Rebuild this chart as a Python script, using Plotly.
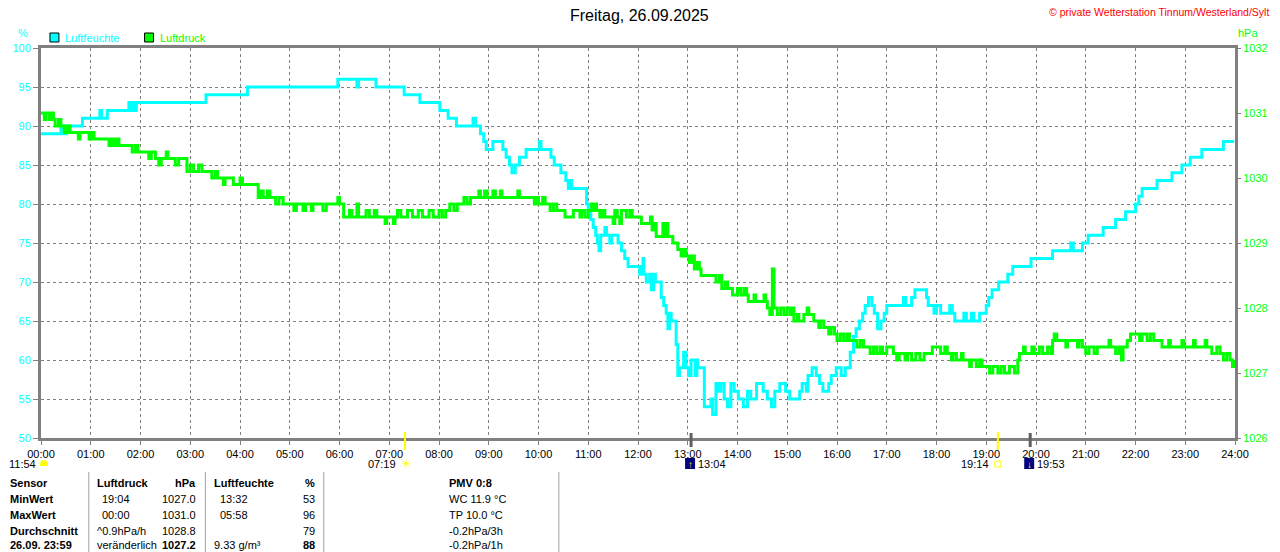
import plotly.graph_objects as go

# Luftfeuchte in %, (Uhrzeit, Wert) an jedem Wechsel
humidity = [
    ("00:00", 89), ("00:24", 90), ("00:27", 89), ("00:30", 90), ("00:50", 91),
    ("01:11", 92), ("01:13", 91), ("01:20", 92), ("01:46", 93), ("01:48", 92),
    ("01:50", 93), ("01:53", 92), ("01:55", 93), ("03:19", 94), ("04:09", 95),
    ("05:58", 96), ("06:21", 95), ("06:23", 96), ("06:44", 95), ("07:18", 94),
    ("07:37", 93), ("08:01", 92), ("08:11", 91), ("08:21", 90), ("08:41", 91),
    ("08:44", 90), ("08:50", 89), ("08:54", 88), ("08:57", 87), ("09:05", 88),
    ("09:17", 87), ("09:21", 86), ("09:25", 85), ("09:28", 84), ("09:32", 85),
    ("09:37", 86), ("09:45", 87), ("10:01", 88), ("10:03", 87), ("10:15", 86),
    ("10:19", 85), ("10:27", 84), ("10:33", 83), ("10:36", 82), ("10:38", 83),
    ("10:40", 82), ("10:58", 80), ("11:00", 79), ("11:03", 78), ("11:06", 77),
    ("11:09", 76), ("11:11", 75), ("11:13", 74), ("11:15", 76), ("11:20", 77),
    ("11:22", 76), ("11:26", 75), ("11:28", 76), ("11:36", 75), ("11:40", 74),
    ("11:44", 73), ("11:48", 72), ("12:02", 71), ("12:04", 72), ("12:06", 73),
    ("12:07", 71), ("12:10", 70), ("12:14", 71), ("12:16", 69), ("12:19", 71),
    ("12:21", 70), ("12:28", 68), ("12:31", 67), ("12:34", 66), ("12:36", 64),
    ("12:38", 66), ("12:40", 65), ("12:46", 62), ("12:48", 58), ("12:50", 59),
    ("12:55", 61), ("12:58", 59), ("13:01", 58), ("13:04", 60), ("13:09", 58),
    ("13:11", 60), ("13:12", 59), ("13:20", 54), ("13:28", 55), ("13:30", 53),
    ("13:34", 57), ("13:37", 56), ("13:40", 57), ("13:44", 55), ("13:48", 54),
    ("13:52", 57), ("13:56", 56), ("14:01", 55), ("14:07", 54), ("14:12", 56),
    ("14:16", 55), ("14:23", 57), ("14:31", 56), ("14:36", 55), ("14:41", 54),
    ("14:45", 56), ("14:51", 57), ("14:58", 56), ("15:03", 55), ("15:15", 56),
    ("15:18", 57), ("15:23", 56), ("15:25", 58), ("15:30", 59), ("15:35", 58),
    ("15:39", 57), ("15:43", 56), ("15:50", 57), ("15:53", 58), ("15:59", 59),
    ("16:05", 58), ("16:10", 59), ("16:16", 61), ("16:20", 63), ("16:23", 64),
    ("16:27", 65), ("16:31", 66), ("16:34", 67), ("16:38", 68), ("16:42", 67),
    ("16:45", 66), ("16:49", 64), ("16:53", 65), ("16:57", 66), ("17:00", 67),
    ("17:20", 68), ("17:23", 67), ("17:30", 68), ("17:34", 69), ("17:48", 68),
    ("17:50", 67), ("17:57", 66), ("18:00", 67), ("18:05", 66), ("18:16", 67),
    ("18:19", 66), ("18:22", 65), ("18:33", 66), ("18:36", 65), ("18:42", 66),
    ("18:45", 65), ("18:52", 66), ("19:00", 67), ("19:03", 68), ("19:07", 69),
    ("19:15", 70), ("19:26", 71), ("19:32", 72), ("19:54", 73), ("20:20", 74),
    ("20:42", 75), ("20:45", 74), ("20:56", 75), ("21:03", 76), ("21:21", 77),
    ("21:36", 78), ("21:48", 79), ("22:00", 80), ("22:04", 81), ("22:08", 82),
    ("22:26", 83), ("22:44", 84), ("22:56", 85), ("23:06", 86), ("23:20", 87),
    ("23:46", 88), ("23:59", 88),
]

# Luftdruck in hPa, (Uhrzeit, Wert) an jedem Wechsel
pressure = [
    ("00:00", 1031.0), ("00:04", 1030.9), ("00:06", 1031.0), ("00:10", 1030.9),
    ("00:12", 1031.0), ("00:15", 1030.9), ("00:17", 1030.8), ("00:21", 1030.9),
    ("00:24", 1030.8), ("00:28", 1030.7), ("00:32", 1030.8), ("00:35", 1030.7),
    ("00:45", 1030.6), ("00:47", 1030.7), ("00:58", 1030.6), ("01:01", 1030.7),
    ("01:04", 1030.6), ("01:22", 1030.5), ("01:25", 1030.6), ("01:28", 1030.5),
    ("01:31", 1030.6), ("01:34", 1030.5), ("01:50", 1030.4), ("01:54", 1030.5),
    ("01:57", 1030.4), ("02:10", 1030.3), ("02:13", 1030.4), ("02:18", 1030.3),
    ("02:22", 1030.2), ("02:25", 1030.3), ("02:31", 1030.4), ("02:33", 1030.3),
    ("02:42", 1030.2), ("02:46", 1030.3), ("02:56", 1030.1), ("03:00", 1030.2),
    ("03:04", 1030.1), ("03:10", 1030.2), ("03:14", 1030.1), ("03:26", 1030.0),
    ("03:30", 1030.1), ("03:33", 1030.0), ("03:40", 1029.9), ("03:42", 1030.0),
    ("03:52", 1029.9), ("04:00", 1030.0), ("04:03", 1029.9), ("04:22", 1029.7),
    ("04:25", 1029.8), ("04:28", 1029.7), ("04:33", 1029.8), ("04:36", 1029.7),
    ("04:43", 1029.6), ("04:47", 1029.7), ("04:52", 1029.6), ("05:05", 1029.5),
    ("05:08", 1029.6), ("05:16", 1029.5), ("05:19", 1029.6), ("05:26", 1029.5),
    ("05:28", 1029.6), ("05:40", 1029.5), ("05:44", 1029.6), ("05:58", 1029.7),
    ("06:00", 1029.6), ("06:05", 1029.4), ("06:12", 1029.5), ("06:15", 1029.4),
    ("06:21", 1029.6), ("06:23", 1029.4), ("06:32", 1029.5), ("06:36", 1029.4),
    ("06:42", 1029.5), ("06:45", 1029.4), ("06:55", 1029.3), ("06:57", 1029.4),
    ("07:05", 1029.3), ("07:07", 1029.4), ("07:10", 1029.5), ("07:14", 1029.4),
    ("07:22", 1029.5), ("07:28", 1029.4), ("07:35", 1029.5), ("07:40", 1029.4),
    ("07:48", 1029.5), ("07:53", 1029.4), ("08:00", 1029.5), ("08:04", 1029.4),
    ("08:08", 1029.5), ("08:13", 1029.6), ("08:18", 1029.5), ("08:22", 1029.6),
    ("08:30", 1029.7), ("08:34", 1029.6), ("08:38", 1029.7), ("08:48", 1029.8),
    ("08:50", 1029.7), ("08:55", 1029.8), ("08:58", 1029.7), ("09:05", 1029.8),
    ("09:08", 1029.7), ("09:14", 1029.8), ("09:16", 1029.7), ("09:35", 1029.8),
    ("09:37", 1029.7), ("09:55", 1029.6), ("09:57", 1029.7), ("10:00", 1029.6),
    ("10:05", 1029.7), ("10:08", 1029.6), ("10:14", 1029.5), ("10:18", 1029.6),
    ("10:22", 1029.5), ("10:32", 1029.4), ("10:42", 1029.5), ("10:50", 1029.4),
    ("10:52", 1029.5), ("10:56", 1029.4), ("11:00", 1029.5), ("11:04", 1029.6),
    ("11:06", 1029.5), ("11:08", 1029.6), ("11:10", 1029.5), ("11:14", 1029.4),
    ("11:17", 1029.5), ("11:20", 1029.4), ("11:30", 1029.3), ("11:32", 1029.5),
    ("11:35", 1029.4), ("11:38", 1029.3), ("11:40", 1029.5), ("11:46", 1029.4),
    ("11:50", 1029.5), ("11:53", 1029.4), ("12:04", 1029.3), ("12:15", 1029.4),
    ("12:17", 1029.2), ("12:20", 1029.3), ("12:22", 1029.1), ("12:30", 1029.3),
    ("12:32", 1029.1), ("12:34", 1029.3), ("12:36", 1029.1), ("12:42", 1029.0),
    ("12:48", 1028.9), ("12:52", 1028.8), ("12:55", 1028.9), ("12:58", 1028.8),
    ("13:02", 1028.7), ("13:05", 1028.8), ("13:08", 1028.6), ("13:11", 1028.7),
    ("13:14", 1028.6), ("13:16", 1028.5), ("13:34", 1028.4), ("13:38", 1028.5),
    ("13:41", 1028.3), ("13:45", 1028.4), ("13:48", 1028.3), ("13:54", 1028.2),
    ("14:00", 1028.3), ("14:04", 1028.2), ("14:08", 1028.3), ("14:11", 1028.2),
    ("14:13", 1028.1), ("14:20", 1028.2), ("14:22", 1028.1), ("14:32", 1028.2),
    ("14:34", 1028.1), ("14:36", 1028.0), ("14:39", 1027.9), ("14:42", 1028.6),
    ("14:44", 1028.0), ("14:48", 1027.9), ("14:52", 1028.0), ("14:56", 1027.9),
    ("15:00", 1028.0), ("15:04", 1027.9), ("15:06", 1028.0), ("15:08", 1027.8),
    ("15:12", 1027.9), ("15:14", 1027.8), ("15:20", 1027.9), ("15:24", 1028.0),
    ("15:26", 1027.9), ("15:32", 1027.8), ("15:38", 1027.7), ("15:40", 1027.8),
    ("15:44", 1027.7), ("15:50", 1027.6), ("15:53", 1027.7), ("15:57", 1027.6),
    ("16:00", 1027.5), ("16:04", 1027.6), ("16:08", 1027.5), ("16:12", 1027.6),
    ("16:15", 1027.5), ("16:24", 1027.4), ("16:28", 1027.5), ("16:32", 1027.4),
    ("16:40", 1027.3), ("16:44", 1027.4), ("16:48", 1027.3), ("16:52", 1027.4),
    ("16:55", 1027.3), ("17:00", 1027.4), ("17:08", 1027.3), ("17:12", 1027.2),
    ("17:15", 1027.3), ("17:22", 1027.2), ("17:25", 1027.3), ("17:30", 1027.2),
    ("17:35", 1027.3), ("17:40", 1027.2), ("17:45", 1027.3), ("17:55", 1027.4),
    ("18:05", 1027.3), ("18:10", 1027.4), ("18:13", 1027.3), ("18:18", 1027.2),
    ("18:20", 1027.3), ("18:24", 1027.2), ("18:30", 1027.3), ("18:32", 1027.2),
    ("18:40", 1027.1), ("18:42", 1027.2), ("18:48", 1027.1), ("18:52", 1027.2),
    ("18:55", 1027.1), ("19:04", 1027.0), ("19:08", 1027.1), ("19:14", 1027.0),
    ("19:18", 1027.1), ("19:22", 1027.0), ("19:28", 1027.1), ("19:34", 1027.0),
    ("19:38", 1027.2), ("19:40", 1027.3), ("19:45", 1027.4), ("19:47", 1027.3),
    ("19:55", 1027.4), ("19:58", 1027.3), ("20:04", 1027.4), ("20:08", 1027.3),
    ("20:14", 1027.4), ("20:18", 1027.3), ("20:20", 1027.5), ("20:22", 1027.6),
    ("20:25", 1027.5), ("20:36", 1027.4), ("20:38", 1027.5), ("20:50", 1027.4),
    ("20:52", 1027.5), ("20:56", 1027.4), ("21:00", 1027.3), ("21:04", 1027.4),
    ("21:10", 1027.3), ("21:14", 1027.4), ("21:28", 1027.5), ("21:30", 1027.4),
    ("21:36", 1027.3), ("21:40", 1027.4), ("21:43", 1027.2), ("21:45", 1027.4),
    ("21:50", 1027.5), ("21:54", 1027.6), ("22:05", 1027.5), ("22:08", 1027.6),
    ("22:14", 1027.5), ("22:18", 1027.6), ("22:22", 1027.5), ("22:32", 1027.4),
    ("22:40", 1027.5), ("22:42", 1027.4), ("22:56", 1027.5), ("22:58", 1027.4),
    ("23:10", 1027.5), ("23:12", 1027.4), ("23:24", 1027.5), ("23:26", 1027.4),
    ("23:32", 1027.3), ("23:38", 1027.4), ("23:42", 1027.3), ("23:46", 1027.2),
    ("23:50", 1027.3), ("23:54", 1027.2), ("23:57", 1027.1), ("23:59", 1027.2),
]

hour_labels = ["%02d:00" % h for h in range(25)]

sunrise, sunset = "07:19", "19:14"
moonrise, moonset = "13:04", "19:53"
day_length = "11:54"

# Tabelle unter dem Diagramm
col_sensor = ["Sensor", "MinWert", "MaxWert", "Durchschnitt", "26.09. 23:59"]
col_druck = ["Luftdruck", "19:04", "00:00", "^0.9hPa/h", "veränderlich"]
col_druck_val = ["hPa", "1027.0", "1031.0", "1028.8", "1027.2"]
col_feuchte = ["Luftfeuchte", "13:32", "05:58", "", "9.33 g/m³"]
col_feuchte_val = ["%", "53", "96", "79", "88"]
col_extra = ["PMV 0:8", "WC 11.9 °C", "TP 10.0 °C", "-0.2hPa/3h", "-0.2hPa/1h"]

CYAN = "#00FFFF"
GREEN = "#00FF00"
GRAY = "#808080"
FONT = "Liberation Sans"

W, H = 1280, 552
L, R, T, B = 41, 1240, 48, 438
HPP = 24.0 / (R - L)   # Stunden pro Pixel


def hours(s):
    h, m = s.split(":")
    return int(h) + int(m) / 60.0


def px(x):
    return (x - L) / (R - L)


def py(y):
    return (B - y) / (B - T)


fig = go.Figure()

fig.add_trace(go.Scatter(
    x=[hours(t) for t, _ in pressure], y=[v for _, v in pressure],
    yaxis="y2", mode="lines", name="Luftdruck",
    line=dict(color=GREEN, width=3, shape="hv"), hoverinfo="skip"))

fig.add_trace(go.Scatter(
    x=[hours(t) for t, _ in humidity], y=[v for _, v in humidity],
    mode="lines", name="Luftfeuchte",
    line=dict(color=CYAN, width=3, shape="hv"), hoverinfo="skip"))


def text(x, y, s, color="black", size=11, anchor="left", bold=False, xref="paper"):
    fig.add_annotation(
        xref=xref, yref="paper", x=x if xref != "paper" else px(x), y=py(y),
        text="<b>%s</b>" % s if bold else s, showarrow=False,
        xanchor=anchor, yanchor="middle",
        font=dict(family=FONT, size=size, color=color))


# Kopf
text(642, 15, "Freitag, 26.09.2025", size=16, anchor="center")
text(1276, 12, "© private Wetterstation Tinnum/Westerland/Sylt", color="#FF0000", size=10.5, anchor="right")
text(30, 33, "%", color=CYAN, anchor="right")
text(1241, 33, "hPa", color=GREEN)

# Legende
fig.add_shape(type="rect", xref="paper", yref="paper", x0=px(50), x1=px(59), y0=py(42), y1=py(33),
              fillcolor=CYAN, line=dict(color="black", width=1))
text(63, 38, "Luftfeuchte", color=CYAN)
fig.add_shape(type="rect", xref="paper", yref="paper", x0=px(145), x1=px(154), y0=py(42), y1=py(33),
              fillcolor=GREEN, line=dict(color="black", width=1))
text(158, 38, "Luftdruck", color=GREEN)

# Tageslaenge
text(38, 464, day_length, anchor="right")
fig.add_shape(type="circle", xref="paper", yref="paper", x0=px(40), x1=px(48), y0=py(469), y1=py(460),
              fillcolor="#FFFF00", line=dict(width=0))
fig.add_shape(type="rect", xref="paper", yref="paper", x0=px(39), x1=px(49), y0=py(471), y1=py(466),
              fillcolor="white", line=dict(width=0))

# Sonnenaufgang / -untergang
for t in (sunrise, sunset):
    h = hours(t)
    fig.add_shape(type="line", xref="x", yref="paper", x0=h, x1=h, y0=py(450), y1=py(432),
                  line=dict(color="#FFFF00", width=2))
    text(h - 7 * HPP, 464, t, anchor="right", xref="x")
h = hours(sunrise)
text(h + 1 * HPP, 464, "☀", color="#FFFF00", size=12, anchor="center", xref="x")
h = hours(sunset)
fig.add_shape(type="rect", xref="x", yref="paper", x0=h - 3 * HPP, x1=h + 3 * HPP, y0=py(467), y1=py(461),
              line=dict(color="#FFFF00", width=1))

# Mondaufgang / -untergang
for t, arrow in ((moonrise, "↑"), (moonset, "↓")):
    h = hours(t)
    fig.add_shape(type="line", xref="x", yref="paper", x0=h, x1=h, y0=py(447), y1=py(433),
                  line=dict(color="#606060", width=3))
    fig.add_shape(type="rect", xref="x", yref="paper", x0=h - 6 * HPP, x1=h + 4 * HPP, y0=py(469), y1=py(458),
                  fillcolor="#000080", line=dict(width=0))
    text(h - 1 * HPP, 464, arrow, color="#FFFF00", size=10, anchor="center", xref="x", bold=True)
    text(h + 5 * HPP, 464, t, xref="x")

# Tabelle
rows_y = [483, 499, 515, 531, 545]
for sx in (89, 206, 325, 561):
    fig.add_shape(type="line", xref="paper", yref="paper", x0=px(sx), x1=px(sx), y0=py(552), y1=py(472),
                  line=dict(color="#A0A0A0", width=1))
for i, y in enumerate(rows_y):
    head = i == 0
    text(8, y, col_sensor[i], bold=True)
    text(95 if i in (0, 3, 4) else 100, y, col_druck[i], bold=head)
    text(199, y, col_druck_val[i], anchor="right", bold=head or i == 4)
    if col_feuchte[i]:
        text(213 if i in (0, 4) else 219, y, col_feuchte[i], bold=head)
    text(318, y, col_feuchte_val[i], anchor="right", bold=head or i == 4)
    text(449, y, col_extra[i], bold=head)

grid = dict(showgrid=True, gridcolor=GRAY, griddash="3px,3px", gridwidth=1, zeroline=False)

fig.update_layout(
    width=W, height=H,
    margin=dict(l=L, r=W - R, t=T, b=H - B, pad=0),
    paper_bgcolor="white", plot_bgcolor="white",
    showlegend=False,
    xaxis=dict(range=[0, 24], tickvals=list(range(25)), ticktext=hour_labels,
               showline=True, linecolor=GRAY, linewidth=3, mirror=True,
               ticks="outside", ticklen=4, tickcolor=GRAY,
               tickfont=dict(family=FONT, size=11, color="black"), **grid),
    yaxis=dict(range=[50, 100], tick0=50, dtick=5,
               showline=True, linecolor=GRAY, linewidth=3, mirror=True,
               ticks="outside", ticklen=5, tickcolor=GRAY,
               tickfont=dict(family=FONT, size=11, color=CYAN), **grid),
    yaxis2=dict(range=[1026, 1032], tick0=1026, dtick=1, overlaying="y", side="right",
                showgrid=False, zeroline=False, showline=False,
                ticks="outside", ticklen=5, tickcolor=GRAY,
                tickfont=dict(family=FONT, size=11, color=GREEN)),
)

# Seitenrand des Browsers entfernen, damit das Bild genau bei 0/0 beginnt
fig.write_html("out.html", config={"displayModeBar": False},
               post_script="document.body.style.margin='0';")
